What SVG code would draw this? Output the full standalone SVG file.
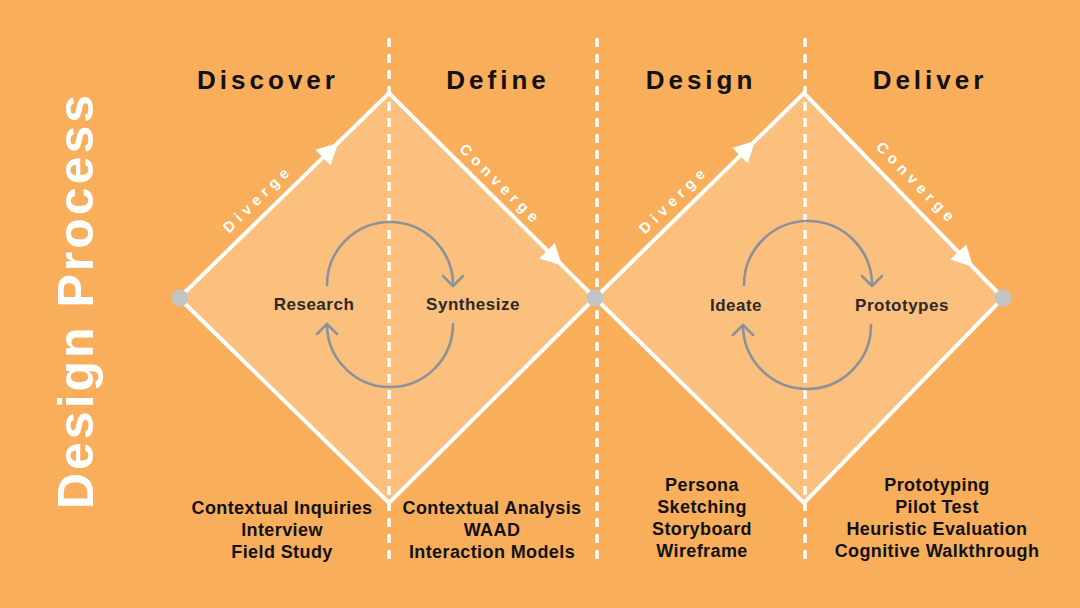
<svg xmlns="http://www.w3.org/2000/svg" xmlns:xlink="http://www.w3.org/1999/xlink" width="1080" height="608" viewBox="0 0 1080 608">
<style>
.bg{fill:#F9AE5B}
.dia{fill:#FBC07E;stroke:#FFFFFF;stroke-width:4;stroke-linejoin:miter}
.dash{stroke:#FFFFFF;stroke-width:3.5;stroke-dasharray:9 7;fill:none}
.dot{fill:#C3C4C6}
.cyc{fill:none;stroke:#8C9298;stroke-width:2.6;stroke-linecap:round;stroke-linejoin:round}
.ah{fill:#FFFFFF}
.t{font-family:"Liberation Sans",Arial,sans-serif;font-weight:bold}
.phase{font-size:26px;letter-spacing:4px;fill:#111111;text-anchor:middle}
.title{font-size:50px;letter-spacing:3px;fill:#FFFFFF;text-anchor:middle}
.edge{font-size:15px;letter-spacing:5px;fill:#FFFFFF;text-anchor:middle}
.act{font-size:17px;letter-spacing:0.5px;fill:#2C2926;text-anchor:middle}
.meth{font-size:18px;letter-spacing:0.4px;fill:#111111;text-anchor:middle}
</style>
<defs>
<path id="arrowhead" d="M0,0 L-21,-11 L-21,11 Z"/>
</defs>
<rect class="bg" x="0" y="0" width="1080" height="608"/>

<g id="title">
<text class="t title" transform="translate(93,302) rotate(-90)" x="1.5">Design Process</text>
</g>

<g id="diamond-1">
<polygon class="dia" points="179,298 389,93 595,298 389,503"/>
</g>
<g id="diamond-2">
<polygon class="dia" points="595,298 804,93 1003,298 804,503"/>
</g>

<g id="dividers">
<line class="dash" x1="389" y1="38" x2="389" y2="562"/>
<line class="dash" x1="597" y1="38" x2="597" y2="562"/>
<line class="dash" x1="805" y1="38" x2="805" y2="562"/>
</g>

<g id="connectors">
<use href="#arrowhead" class="ah" transform="translate(338,143) rotate(-44.2)"/>
<use href="#arrowhead" class="ah" transform="translate(562,265.5) rotate(44.7)"/>
<use href="#arrowhead" class="ah" transform="translate(755,141) rotate(-44.4)"/>
<use href="#arrowhead" class="ah" transform="translate(973,267) rotate(45.8)"/>
<path class="cyc" d="M327,285 A63,63 0 0 1 453,285"/>
<path class="cyc" d="M443,276 L453,286 L463,276"/>
<path class="cyc" d="M453,324 A63,63 0 0 1 327,324"/>
<path class="cyc" d="M317,334 L327,324 L337,334"/>
<path class="cyc" d="M744,285 A64,64 0 0 1 872,285"/>
<path class="cyc" d="M862,276 L872,286 L882,276"/>
<path class="cyc" d="M871,325 A64,64 0 0 1 743,325"/>
<path class="cyc" d="M733,335 L743,325 L753,335"/>
</g>

<g id="points">
<circle class="dot" cx="180" cy="298" r="8.5"/>
<circle class="dot" cx="595" cy="298" r="8.5"/>
<circle class="dot" cx="1003" cy="298" r="8.5"/>
</g>

<g id="edge-labels">
<text class="t edge" transform="translate(259.5,204) rotate(-44.2)" x="2.5">Diverge</text>
<text class="t edge" transform="translate(495.5,186.5) rotate(44.7)" x="2.5">Converge</text>
<text class="t edge" transform="translate(675.5,205) rotate(-44.4)" x="2.5">Diverge</text>
<text class="t edge" transform="translate(911.5,185) rotate(45.8)" x="2.5">Converge</text>
</g>

<g id="discover">
<text class="t phase" x="268" y="89">Discover</text>
<text class="t act" x="314" y="310">Research</text>
<text class="t meth" x="282" y="514">Contextual Inquiries</text>
<text class="t meth" x="282" y="536">Interview</text>
<text class="t meth" x="282" y="558">Field Study</text>
</g>
<g id="define">
<text class="t phase" x="498" y="89">Define</text>
<text class="t act" x="473" y="310">Synthesize</text>
<text class="t meth" x="492" y="514">Contextual Analysis</text>
<text class="t meth" x="492" y="536">WAAD</text>
<text class="t meth" x="492" y="558">Interaction Models</text>
</g>
<g id="design">
<text class="t phase" x="701" y="89">Design</text>
<text class="t act" x="736" y="311">Ideate</text>
<text class="t meth" x="702" y="491">Persona</text>
<text class="t meth" x="702" y="513">Sketching</text>
<text class="t meth" x="702" y="535">Storyboard</text>
<text class="t meth" x="702" y="557">Wireframe</text>
</g>
<g id="deliver">
<text class="t phase" x="930" y="89">Deliver</text>
<text class="t act" x="902" y="311">Prototypes</text>
<text class="t meth" x="937" y="491">Prototyping</text>
<text class="t meth" x="937" y="513">Pilot Test</text>
<text class="t meth" x="937" y="535">Heuristic Evaluation</text>
<text class="t meth" x="937" y="557">Cognitive Walkthrough</text>
</g>
</svg>
